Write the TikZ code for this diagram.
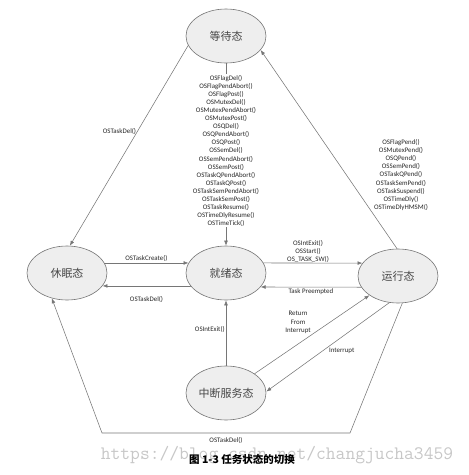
\documentclass[tikz,border=0pt]{standalone}
\usepackage{fontspec}
\newfontfamily\cjk{Noto Sans CJK SC}
\newfontfamily\lblfont{Carlito}
\usetikzlibrary{shapes.geometric,arrows.meta}
\definecolor{linegray}{RGB}{118,118,118}
\definecolor{fillgray}{RGB}{238,238,238}
\begin{document}
\begin{tikzpicture}[x=1pt,y=-1pt,line cap=round,line join=round,>={Latex[length=5pt,width=3.8pt]},
  state/.style={ellipse,draw=linegray,fill=fillgray,line width=0.6pt,minimum width=80pt,minimum height=54pt,inner sep=0pt,font=\cjk\fontsize{11}{13}\selectfont,text=black!72},
  conn/.style={->,draw=linegray,line width=0.55pt},
  lbl/.style={font=\lblfont\fontsize{6.9}{8.1}\selectfont,text=black!85,inner sep=1pt,align=center}]
  \useasboundingbox (0,0) rectangle (469,475);
  % states
  \node[state] (wait) at (226,36) {等待态};
  \node[state] (sleep) at (67,273) {休眠态};
  \node[state] (ready) at (226,273) {就绪态};
  \node[state] (run) at (398,276) {运行态};
  \node[state] (isr) at (226,393) {中断服务态};
  \coordinate (br) at (350,433);
  \coordinate (bl) at (102,433);
  % transitions
  \draw[conn] (wait) -- node[lbl,fill=white,inner sep=0.5pt,pos=0.48] (waitlist) {OSFlagDel()\\OSFlagPendAbort()\\OSFlagPost()\\OSMutexDel()\\OSMutexPendAbort()\\OSMutexPost()\\OSQDel()\\OSQPendAbort()\\OSQPost()\\OSSemDel()\\OSSemPendAbort()\\OSSemPost()\\OSTaskQPendAbort()\\OSTaskQPost()\\OSTaskSemPendAbort()\\OSTaskSemPost()\\OSTaskResume()\\OSTimeDlyResume()\\OSTimeTick()} (ready);
  \draw[conn] (wait.194) -- node[lbl,left,pos=0.43] (waitdel) {OSTaskDel()} (sleep.84);
  \draw[conn] (run.92) -- (wait.338);
  \node[lbl] (runlist) at (401,175) {OSFlagPend()\\OSMutexPend()\\OSQPend()\\OSSemPend()\\OSTaskQPend()\\OSTaskSemPend()\\OSTaskSuspend()\\OSTimeDly()\\OSTimeDlyHMSM()};
  \draw[conn] (sleep.15) -- node[lbl,above] (create) {OSTaskCreate()} (ready.165);
  \draw[conn] (ready.200) -- node[lbl,below=9pt] (readydel) {OSTaskDel()} (sleep.340);
  \draw[conn] (ready.15) -- node[lbl,above,inner sep=0.5pt,pos=0.45] (tosw) {OSIntExit()\\OSStart()\\OS\_TASK\_SW()} (run.160);
  \draw[conn] (run.197) -- node[lbl,below] (preempt) {Task Preempted} (ready.338);
  \draw[conn] (isr) -- node[lbl,left,pos=0.56] (intexit) {OSIntExit()} (ready);
  \draw[conn] (isr.34) -- node[lbl,pos=0.5,above left] (ret) {Return\\From\\Interrupt} (run.214);
  \draw[conn] (run.252) -- node[lbl,pos=0.5,below right] (intr) {Interrupt} (isr.2);
  \draw[conn] (run.279) -- (br) -- node[lbl,below=3pt] (rundel) {OSTaskDel()} (bl) -- (sleep.239);
  % caption
  \node[font=\ttfamily\fontsize{19}{20}\selectfont,text=black!22] (mark) at (277,455) {https://blog.csdn.net/changjucha3459};
  \node[font=\cjk\bfseries\fontsize{10.5}{12}\selectfont] (caption) at (242,459) {图\ 1-3\ 任务状态的切换};
\end{tikzpicture}
\end{document}
